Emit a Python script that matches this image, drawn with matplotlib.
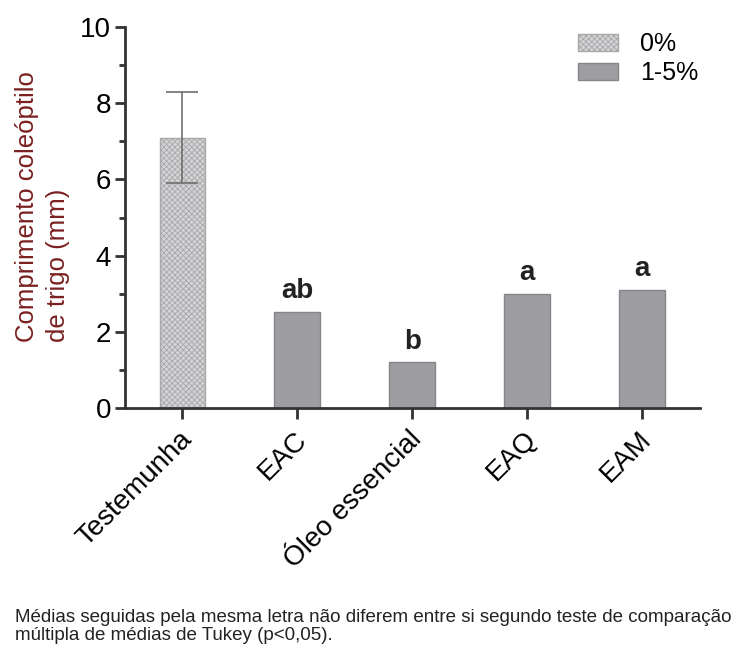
import numpy as np
import matplotlib
matplotlib.use('Agg')
from matplotlib import pyplot as plt
from matplotlib.patches import Patch
from matplotlib.transforms import ScaledTranslation

plt.rcParams['font.family'] = ['Liberation Sans', 'DejaVu Sans']
plt.rcParams['hatch.linewidth'] = 0.6

categories = ['Testemunha', 'EAC', 'Óleo essencial', 'EAQ', 'EAM']
means = [7.1, 2.52, 1.2, 3.0, 3.1]
errors_low = [1.2, 0, 0, 0, 0]
errors_high = [1.2, 0, 0, 0, 0]
letters = ['', 'ab', 'b', 'a', 'a']
groups = ['0%', '1-5%', '1-5%', '1-5%', '1-5%']

fig = plt.figure(figsize=(7.42, 6.52), dpi=100)
ax = fig.add_axes([0.1685, 0.374, 0.7745, 0.5846])

x = np.arange(len(categories))
for i in x:
    if groups[i] == '0%':
        ax.bar(i, means[i], width=0.4, facecolor='#d4d4d6', edgecolor='#a8a8aa',
               hatch='xxxxxx', linewidth=1.0, zorder=2)
    else:
        ax.bar(i, means[i], width=0.4, facecolor='#9e9ea2', edgecolor='#86868a',
               linewidth=1.0, zorder=2)
    if letters[i]:
        ax.text(i, means[i] + 0.2, letters[i], ha='center', va='bottom',
                fontsize=20, fontweight='bold', color='#222222')

ax.errorbar(x[:1], means[:1], yerr=[errors_low[:1], errors_high[:1]], fmt='none',
            ecolor='#6e6e6e', elinewidth=1.2, capsize=11.5, capthick=1.2, zorder=3)

ax.set_xlim(-0.5, 4.5)
ax.set_ylim(0, 10)
ax.set_yticks([0, 2, 4, 6, 8, 10])
ax.set_yticks([1, 3, 5, 7, 9], minor=True)
ax.tick_params(axis='y', which='major', labelsize=20, width=2, length=7, color='#333333', pad=3)
ax.tick_params(axis='y', which='minor', width=2, length=4, color='#333333')
ax.tick_params(axis='x', which='major', labelsize=20, width=2, length=8, color='#333333', pad=5)
ax.set_xticks(x)
ax.set_xticklabels(categories, rotation=45, ha='right', rotation_mode='anchor')
shift = ScaledTranslation(-4 / 100, 0, fig.dpi_scale_trans)
for lab in ax.get_xticklabels():
    lab.set_transform(lab.get_transform() + shift)

for s in ['top', 'right']:
    ax.spines[s].set_visible(False)
for s in ['left', 'bottom']:
    ax.spines[s].set_linewidth(2)
    ax.spines[s].set_color('#333333')

ax.set_ylabel('Comprimento coleóptilo\nde trigo (mm)', fontsize=18.5, color='#7a2020',
              linespacing=1.4, multialignment='left')
ax.yaxis.set_label_coords(-0.095, 0.53)

handles = [Patch(facecolor='#d4d4d6', edgecolor='#a8a8aa', hatch='xxxxxx'),
           Patch(facecolor='#9e9ea2', edgecolor='#86868a')]
ax.legend(handles, ['0%', '1-5%'], loc='upper left', bbox_to_anchor=(0.77, 1.013),
          frameon=False, fontsize=18, handlelength=1.6, handleheight=0.65,
          handletextpad=0.9, labelspacing=0.2, borderaxespad=0.0)

fig.text(0.02, 1 - 617 / 652, 'Médias seguidas pela mesma letra não diferem entre si segundo teste de comparação',
         fontsize=13.5, color='#222222', ha='left', va='center')
fig.text(0.02, 1 - 636 / 652, 'múltipla de médias de Tukey (p<0,05).',
         fontsize=13.5, color='#222222', ha='left', va='center')

fig.savefig('out.png', dpi=100)
